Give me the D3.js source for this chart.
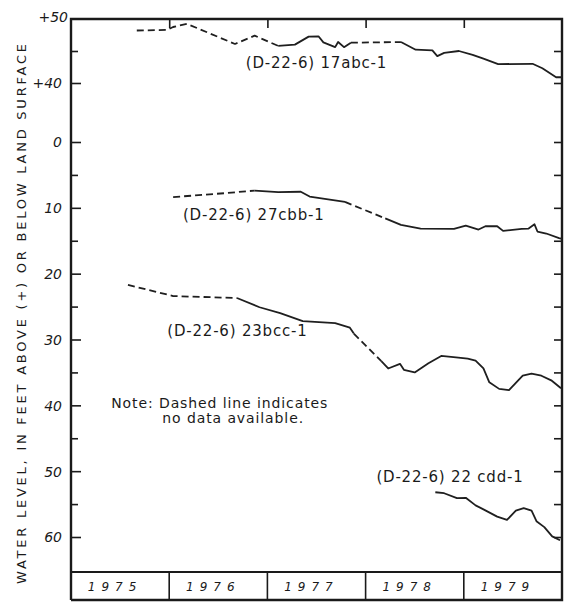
<!DOCTYPE html>
<html>
<head>
<meta charset="utf-8">
<script src="https://cdn.jsdelivr.net/npm/d3@7"></script>
<style>
  body { margin: 0; background: #fff; }
  text { font-family: "DejaVu Sans", sans-serif; fill: #1a1a1a; }
</style>
</head>
<body>
<script>
// water levels, feet: above land surface positive, below negative
var years = [1975, 1976, 1977, 1978, 1979];

var t17abc = [1975.67, 1975.98, 1976.04, 1976.18, 1976.67, 1976.87, 1977.11, 1977.28, 1977.42, 1977.52,
  1977.57, 1977.69, 1977.72, 1977.78, 1977.85, 1978.36, 1978.51, 1978.68, 1978.73, 1978.80,
  1978.95, 1979.09, 1979.20, 1979.35, 1979.70, 1979.80, 1979.94, 1980.00];
var v17abc = [48.2, 48.3, 48.75, 49.25, 46.1, 47.4, 45.8, 46.0, 47.25, 47.3,
  46.35, 45.6, 46.4, 45.6, 46.3, 46.4, 45.2, 45.1, 44.2, 44.7,
  45.0, 44.4, 43.8, 42.95, 43.0, 42.3, 40.9, 40.9];
var gaps17abc = [[1975.67, 1977.11], [1977.85, 1978.36]];

var t27cbb = [1976.04, 1976.57, 1976.87, 1977.11, 1977.34, 1977.43, 1977.55, 1977.79, 1978.20, 1978.36,
  1978.56, 1978.90, 1979.02, 1979.15, 1979.22, 1979.34, 1979.40, 1979.59, 1979.66, 1979.72,
  1979.75, 1979.84, 1979.97, 1980.00];
var v27cbb = [-8.37, -7.77, -7.38, -7.62, -7.56, -8.29, -8.57, -9.1, -11.6, -12.6,
  -13.15, -13.2, -12.7, -13.3, -12.8, -12.8, -13.5, -13.2, -13.15, -12.5,
  -13.6, -13.9, -14.6, -14.7];
var gaps27cbb = [[1976.04, 1976.87], [1977.79, 1978.20]];

var t23bcc = [1975.58, 1976.04, 1976.69, 1976.92, 1977.13, 1977.36, 1977.69, 1977.84, 1977.88, 1978.16,
  1978.23, 1978.35, 1978.39, 1978.50, 1978.64, 1978.77, 1978.92, 1979.04, 1979.12, 1979.20,
  1979.26, 1979.36, 1979.46, 1979.53, 1979.60, 1979.69, 1979.79, 1979.89, 1979.99];
var v23bcc = [-21.7, -23.4, -23.7, -25.1, -26.0, -27.2, -27.5, -28.2, -29.1, -33.3,
  -34.4, -33.7, -34.6, -35.0, -33.6, -32.5, -32.7, -32.9, -33.2, -34.4,
  -36.5, -37.5, -37.7, -36.6, -35.5, -35.2, -35.5, -36.2, -37.4];
var gaps23bcc = [[1975.58, 1976.69], [1977.88, 1978.16]];

var t22cdd = [1978.71, 1978.80, 1978.93, 1979.02, 1979.12, 1979.20, 1979.34, 1979.44, 1979.53, 1979.61,
  1979.69, 1979.74, 1979.82, 1979.90, 1979.98];
var v22cdd = [-53.2, -53.35, -54.1, -54.05, -55.2, -55.8, -56.9, -57.4, -56.0, -55.6,
  -56.0, -57.6, -58.5, -59.9, -60.5];
var gaps22cdd = [];

var yMajor = [50, 40, 0, -10, -20, -30, -40, -50, -60];
var yMinor = [45, -5, -15, -25, -35, -45, -55];
var yRight = [45, 40, 0, -5, -10, -15, -20, -25, -30, -35, -40, -45, -50, -55, -60];

// well label: name, anchor year, anchor level
var wellNames = ['(D-22-6) 17abc-1', '(D-22-6) 27cbb-1', '(D-22-6) 23bcc-1', '(D-22-6) 22 cdd-1'];
var labelT = [1976.78, 1976.14, 1975.98, 1978.11];
var labelV = [42.4, -11.8, -29.5, -51.7];

var W = 568, H = 604;
var padL = 71, padR = 562, padT = 19, bandTop = 572, bandBottom = 600;

var svg = d3.select('body').append('svg').attr('width', W).attr('height', H);

var x = d3.scaleLinear().domain([1975, 1980]).range([padL, padR]);
// broken axis: +50..+40 then jump to 0
var y = d3.scaleLinear().domain([50, 40, 0, -60]).range([padT, 83, 142, 537]);

// axes
var fmt = function(d) { return d > 0 ? '+' + d : Math.abs(d); };
var gl = svg.append('g').attr('transform', 'translate(' + padL + ',0)')
  .call(d3.axisLeft(y).tickValues(yMajor.filter(function(d) { return d != 50; })).tickSize(-10).tickSizeOuter(0).tickPadding(9).tickFormat(fmt));
gl.append('text').attr('x', -3).attr('y', padT + 3).attr('text-anchor', 'end').text('+50');
svg.append('g').attr('transform', 'translate(' + padL + ',0)')
  .call(d3.axisLeft(y).tickValues(yMinor).tickSize(-7).tickSizeOuter(0).tickFormat(''));
svg.append('g').attr('transform', 'translate(' + padR + ',0)')
  .call(d3.axisRight(y).tickValues(yRight).tickSize(-8).tickSizeOuter(0).tickFormat(''));
svg.append('g').attr('transform', 'translate(0,' + padT + ')')
  .call(d3.axisTop(x).tickValues([1976, 1977, 1978, 1979]).tickSize(-9).tickSizeOuter(0).tickFormat(''));
svg.selectAll('.domain').remove();
svg.selectAll('.tick line').attr('stroke', '#1a1a1a').attr('stroke-width', 1.6);
gl.selectAll('text').style('font-size', '14px').style('font-style', 'italic').style('font-family', '"DejaVu Sans", sans-serif').attr('fill', '#1a1a1a');
gl.selectAll('.tick text').attr('dy', '0.35em');

// frame and year band
var frame = svg.append('g').attr('stroke', '#1a1a1a').attr('fill', 'none');
frame.append('path').attr('stroke-width', 2.4)
  .attr('d', 'M' + padL + ',' + bandBottom + 'V' + padT + 'H' + padR + 'V' + bandBottom + 'H' + padL);
frame.append('line').attr('stroke-width', 1.8)
  .attr('x1', padL).attr('x2', padR).attr('y1', bandTop).attr('y2', bandTop);
frame.selectAll('.div').data([1976, 1977, 1978, 1979]).enter().append('line')
  .attr('stroke-width', 1.6)
  .attr('x1', function(d) { return x(d); }).attr('x2', function(d) { return x(d); })
  .attr('y1', bandTop).attr('y2', bandBottom);
svg.selectAll('.yr').data(years).enter().append('text')
  .attr('x', function(d) { return x(d + 0.5) - 5; }).attr('y', (bandTop + bandBottom) / 2 + 5)
  .attr('text-anchor', 'middle').style('font-size', '12px').style('font-style', 'italic')
  .style('letter-spacing', '6px').text(function(d) { return d; });

// y title
svg.append('text').attr('transform', 'translate(26,314) rotate(-90)')
  .attr('text-anchor', 'middle').style('font-size', '13px')
  .attr('textLength', 540).attr('lengthAdjust', 'spacing')
  .text('WATER LEVEL, IN FEET ABOVE (+) OR BELOW LAND SURFACE');

// hydrographs
function pieces(ts, vs, gaps) {
  var out = [];
  for (var i = 0; i < ts.length - 1; i++) {
    var mid = (ts[i] + ts[i + 1]) / 2;
    var dashed = gaps.some(function(g) { return mid > g[0] && mid < g[1]; });
    var last = out[out.length - 1];
    if (last && last.dashed == dashed) {
      last.pts.push([ts[i + 1], vs[i + 1]]);
    } else {
      out.push({ dashed: dashed, pts: [[ts[i], vs[i]], [ts[i + 1], vs[i + 1]]] });
    }
  }
  return out;
}
var line = d3.line().x(function(d) { return x(d[0]); }).y(function(d) { return y(d[1]); });
var wells = [[t17abc, v17abc, gaps17abc], [t27cbb, v27cbb, gaps27cbb], [t23bcc, v23bcc, gaps23bcc], [t22cdd, v22cdd, gaps22cdd]];
wells.forEach(function(w) {
  svg.append('g').selectAll('path').data(pieces(w[0], w[1], w[2])).enter().append('path')
    .attr('fill', 'none').attr('stroke', '#1f1f1f').attr('stroke-width', 1.8)
    .attr('stroke-linejoin', 'round')
    .attr('stroke-dasharray', function(d) { return d.dashed ? '7,4' : null; })
    .attr('d', function(d) { return line(d.pts); });
});

// labels
svg.selectAll('.wl').data(wellNames).enter().append('text')
  .attr('x', function(d, i) { return x(labelT[i]); })
  .attr('y', function(d, i) { return y(labelV[i]); })
  .style('font-size', '15px').style('letter-spacing', '0.8px').text(function(d) { return d; });

svg.append('text').attr('x', x(1975.41)).attr('y', y(-40.4)).style('font-size', '14px')
  .style('letter-spacing', '0.9px').text('Note: Dashed line indicates');
svg.append('text').attr('x', x(1975.93)).attr('y', y(-42.7)).style('font-size', '14px')
  .style('letter-spacing', '0.9px').text('no data available.');
</script>
</body>
</html>
